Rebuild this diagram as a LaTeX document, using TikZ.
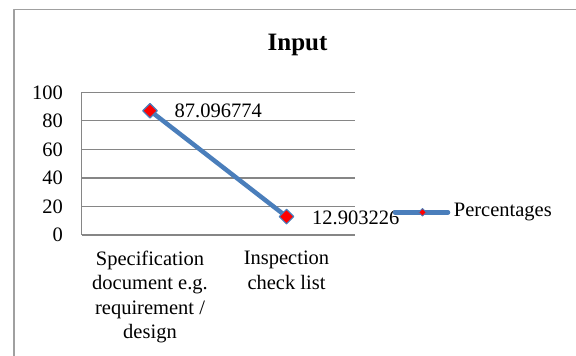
\documentclass[tikz,border=0pt]{standalone}
\usepackage{fontspec}
\setmainfont{Liberation Serif}
\usetikzlibrary{arrows}
\usetikzlibrary{positioning}
\usetikzlibrary{shapes.geometric}
\definecolor{serieblue}{RGB}{74,126,187}
\definecolor{gridgray}{RGB}{134,134,134}
\definecolor{framegray}{RGB}{160,160,160}
\tikzset{
  lbl/.style={font=\fontsize{20.5}{24.3}\selectfont,inner sep=0pt},
  marker/.style={diamond,draw=serieblue,fill=red,line width=1.2pt,inner sep=0pt,minimum size=15pt},
  smallmarker/.style={diamond,draw=serieblue,fill=red,line width=0.8pt,inner sep=0pt,minimum size=8pt},
  serie/.style={serieblue,line width=4.5pt}
}
\begin{document}
\begin{tikzpicture}[line cap=round,line join=round,x=1pt,y=-1pt]
\useasboundingbox (0,0) rectangle (576,356);
\draw [framegray,line width=1.5pt,line cap=butt] (14,356) |- (576,9.5);
\node[lbl,font=\fontsize{25}{30}\selectfont\bfseries] (title) at (297.6,45) {Input};
% grid lines
\foreach \v [evaluate=\v as \yy using 235-1.427*\v] in {0,20,...,100}{
  \draw [gridgray,line width=1.2pt,line cap=butt] (81.7,\yy) -- (355,\yy);
  \node[lbl,anchor=east] (y\v) at (63,\yy) {\v};
}
\draw [gridgray,line width=1.2pt,line cap=butt] (81.7,92.3) -- (81.7,235);
% series
\coordinate (p1) at (150,110.7);
\coordinate (p2) at (286.5,216.6);
\draw [serie] (p1) -- (p2);
\node[marker] (m1) at (p1) {};
\node[marker] (m2) at (p2) {};
\node[lbl,anchor=west] (v1) at (174.5,111) {87.096774};
\node[lbl,anchor=west] (v2) at (312,217.5) {12.903226};
% category labels
\node[lbl,align=center,anchor=north] (c1) at (150,251) {Specification\\document e.g.\\requirement /\\design};
\node[lbl,align=center,anchor=north] (c2) at (286.5,251) {Inspection\\check list};
% legend
\coordinate (l1) at (395,212.3);
\coordinate (l2) at (448,212.3);
\draw [serie] (l1) -- (l2);
\node[smallmarker] (lm) at (422.5,212.3) {};
\node[lbl,anchor=west] (leg) at (453.7,212.3) {Percentages};
\end{tikzpicture}
\end{document}
